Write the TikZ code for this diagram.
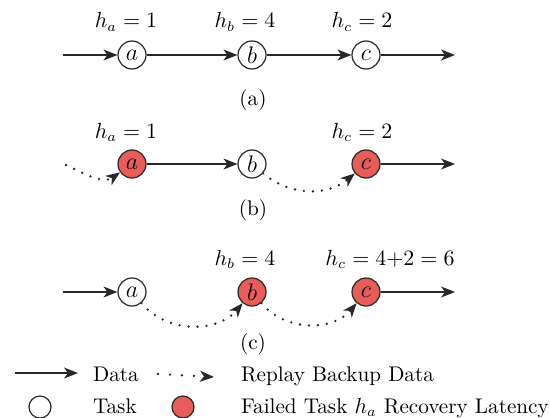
\documentclass[tikz,border=0pt]{standalone}
\usetikzlibrary{arrows.meta}

\definecolor{failred}{RGB}{232,92,90}
\definecolor{linegray}{RGB}{40,40,40}

\tikzset{
  tasknode/.style={circle, draw=linegray, semithick, minimum size=14pt, inner sep=0pt,
    font=\fontsize{13}{15}\selectfont},
  failednode/.style={tasknode, fill=failred},
  dataedge/.style={-{Stealth[length=7pt,width=5.5pt,inset=2pt]}, draw=linegray, semithick},
  replayedge/.style={-{Stealth[length=7pt,width=5.5pt,inset=2pt]}, draw=linegray, line width=1.3pt,
    dash pattern=on 0pt off 4.5pt, line cap=round},
}

\begin{document}
\begin{tikzpicture}[x=0.5pt, y=-0.5pt, font=\fontsize{10.6}{13}\selectfont]
\useasboundingbox (0,0) rectangle (550,417);

% (a)
\coordinate (ina) at (63,55);
\coordinate (outa) at (455,55);
\node[tasknode] (a1) at (132,55) {$a$};
\node[tasknode] (b1) at (252,55) {$b$};
\node[tasknode] (c1) at (366,55) {$c$};
\draw[dataedge] (ina) -- (a1);
\draw[dataedge] (a1) -- (b1);
\draw[dataedge] (b1) -- (c1);
\draw[dataedge] (c1) -- (outa);
\node[anchor=base] (ha1) at (126,28) {$h_a = 1$};
\node[anchor=base] (hb1) at (245,28) {$h_b = 4$};
\node[anchor=base] (hc1) at (362,28) {$h_c = 2$};
\node (capa) at (253,100) {(a)};

% (b)
\coordinate (inb) at (66,165);
\coordinate (outb) at (455,164);
\node[failednode] (a2) at (132,164) {$a$};
\node[tasknode] (b2) at (252,164) {$b$};
\node[failednode] (c2) at (366,164) {$c$};
\draw[replayedge] (inb) to[out=-25, in=215] (a2);
\draw[dataedge] (a2) -- (b2);
\draw[replayedge] (b2) to[out=-40, in=220] (c2);
\draw[dataedge] (c2) -- (outb);
\node[anchor=base] (ha2) at (126,138) {$h_a = 1$};
\node[anchor=base] (hc2) at (362,138) {$h_c = 2$};
\node (capb) at (253,210) {(b)};

% (c)
\coordinate (inc) at (63,292);
\coordinate (outc) at (455,292);
\node[tasknode] (a3) at (132,292) {$a$};
\node[failednode] (b3) at (252,292) {$b$};
\node[failednode] (c3) at (366,292) {$c$};
\draw[dataedge] (inc) -- (a3);
\draw[replayedge] (a3) to[out=-50, in=230] (b3);
\draw[replayedge] (b3) to[out=-50, in=230] (c3);
\draw[dataedge] (c3) -- (outc);
\node[anchor=base] (hb3) at (245,265) {$h_b = 4$};
\node[anchor=base] (hc3) at (390,265) {$h_c = 4{+}2 = 6$};
\node (capc) at (253,344) {(c)};

% Legend
\coordinate (ld1) at (15,373);
\coordinate (ld2) at (78,373);
\draw[dataedge] (ld1) -- (ld2);
\node[anchor=base west] (ldata) at (86,381) {Data};
\coordinate (lr1) at (158,374);
\coordinate (lr2) at (214,377);
\draw[replayedge, dash pattern=on 0pt off 6pt] (lr1) -- (lr2);
\node[anchor=base west] (lreplay) at (234,381) {Replay Backup Data};
\node[tasknode, minimum size=11pt] (ltask) at (40,407) {};
\node[anchor=base west] (ltasktxt) at (86,413) {Task};
\node[failednode, minimum size=11pt] (lfail) at (183,407) {};
\node[anchor=base west] (lfailtxt) at (234,413) {Failed Task $h_a$ Recovery Latency};
\end{tikzpicture}
\end{document}
